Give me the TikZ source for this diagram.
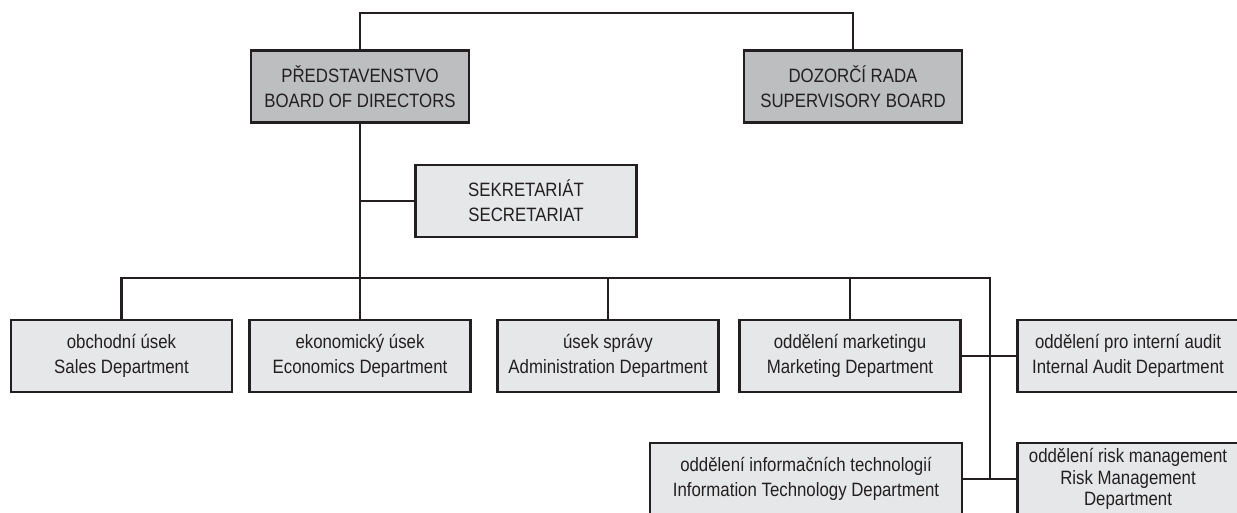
\documentclass[tikz,border=0pt]{standalone}
\usepackage{fontspec}
\setmainfont{Liberation Sans}[FakeStretch=0.87]
\usepackage{xcolor}
\definecolor{boxline}{HTML}{231F20}
\definecolor{darkfill}{HTML}{BCBEC0}
\definecolor{lightfill}{HTML}{E6E7E8}
\tikzset{
	unit/.style={draw=boxline, line width=1.4pt, align=center, inner sep=2pt, text=boxline,
			minimum height=1.44cm, font=\fontsize{11pt}{14.2pt}\selectfont},
	board/.style={unit, fill=darkfill, minimum width=4.36cm},
	dept/.style={unit, fill=lightfill, minimum width=4.42cm},
	link/.style={draw=boxline, line width=1.2pt}
}
\begin{document}
\begin{tikzpicture}[x=0.02cm,y=-0.02cm]
		\clip (0,0) rectangle (1237,513);
		% boards
		\node [board] (bod) at (360,86.5) {PŘEDSTAVENSTVO\\BOARD OF DIRECTORS};
		\node [board] (sb) at (853,86.5) {DOZORČÍ RADA\\SUPERVISORY BOARD};
		\node [dept] (secr) at (526,201) {SEKRETARIÁT\\SECRETARIAT};
		% departments
		\node [dept] (sales) at (121.5,356) {obchodní úsek\\Sales Department};
		\node [dept] (econ) at (360,356) {ekonomický úsek\\Economics Department};
		\node [dept] (admin) at (608,356) {úsek správy\\Administration Department};
		\node [dept] (mkt) at (850,356) {oddělení marketingu\\Marketing Department};
		\node [dept] (audit) at (1128,356) {oddělení pro interní audit\\Internal Audit Department};
		\node [dept, minimum width=6.24cm] (it) at (806,479) {oddělení informačních technologií\\Information Technology Department};
		\node [dept, font=\fontsize{11pt}{12.2pt}\selectfont] (risk) at (1128,479) {oddělení risk management\\Risk Management\\Department};
		% connectors
		\coordinate (top) at (360,13);
		\coordinate (bus) at (360,278);
		\coordinate (busend) at (990,278);
		\draw [link] (bod.north) -- (top) -| (sb.north);
		\draw [link] (bod.south) -- (bus);
		\draw [link] (secr.west) -- (secr.west -| bus);
		\draw [link] (sales.north) |- (busend) -- (busend |- risk.west);
		\foreach \d in {econ,admin,mkt}
			\draw [link] (\d.north) -- (\d.north |- bus);
		\draw [link] (mkt.east) -- (audit.west);
		\draw [link] (it.east) -- (risk.west);
	\end{tikzpicture}
\end{document}
